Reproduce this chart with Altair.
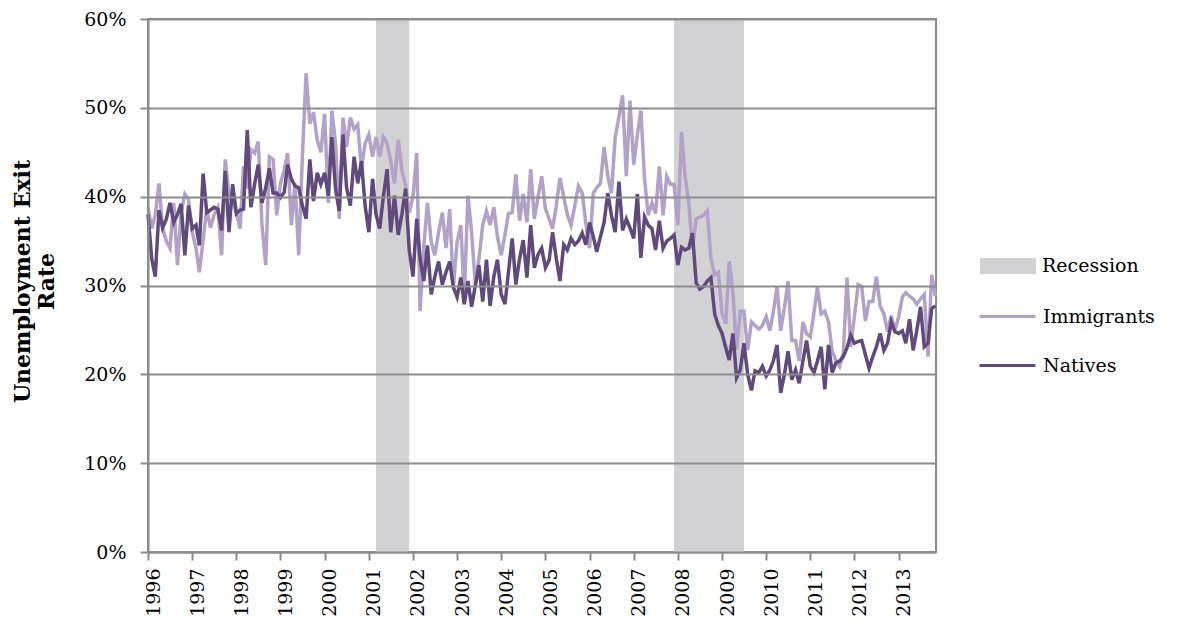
import altair as alt
import pandas as pd

# Monthly unemployment exit rates (%), Jan 1996 - Nov 2013
natives = [
    38, 33, 31, 38.5, 36.5, 37.5, 39.3, 37.1, 38, 39.2, 33.4, 39,
    36.4, 36.8, 34.5, 42.6, 38.2, 38.5, 38.8, 38.6, 36.2, 42.9, 36, 41.4,
    38.1, 38.5, 38.6, 47.5, 38.8, 41.4, 43.6, 39.3, 41, 43.2, 40.4, 40.4,
    39.9, 40.5, 43.6, 42, 41.2, 41, 39, 37.5, 44.2, 39.5, 42.7, 41.4,
    42.7, 40.1, 46.7, 40.8, 38.4, 47, 41, 39, 44.5, 41.5, 44, 39,
    36, 42, 38, 36.4, 40, 43.1, 36, 40.1, 35.7, 38, 40.9, 34,
    31, 37.5, 33, 30.5, 34.5, 29, 31, 32.7, 30.1, 31.5, 32.7, 29.8,
    28.7, 30.9, 27.9, 30.5, 27.6, 30, 32.3, 28.2, 32.9, 27.7, 31, 32.9,
    29, 27.9, 31.5, 35.3, 30.1, 33, 35.1, 30.9, 36.8, 32, 33.5, 34.2,
    32, 32.9, 36, 33, 30.5, 34.6, 34, 35.3, 34.6, 35, 35.9, 34.6,
    37.1, 35.5, 33.8, 35.5, 37.1, 40.4, 37.9, 36, 41.7, 36.2, 37.5, 36.5,
    35.3, 40.3, 33.1, 37.7, 36.8, 36.4, 34, 37.3, 34.2, 35, 35.3, 35.7,
    32.3, 34.3, 34, 34.2, 35.9, 30.3, 29.6, 29.9, 30.5, 30.9, 26.8, 25.5,
    24.6, 23, 21.6, 24.6, 19.6, 20.5, 23.5, 20, 18.2, 20.4, 20.2, 20.9,
    19.8, 20.5, 21.5, 23.3, 17.9, 20, 22.6, 19.4, 20.5, 19, 21.5, 23.8,
    20.9, 20.2, 21.5, 23.1, 18.3, 23.3, 20.2, 21.3, 21.5, 22, 23, 24.4,
    23.5, 23.7, 23.8, 22.2, 20.7, 22, 23.1, 24.6, 22.7, 23.5, 25.9, 24.8,
    24.6, 24.9, 23.5, 26.2, 22.7, 25, 27.6, 23.1, 23.5, 27.4, 27.7,
]

immigrants = [
    38.8, 36.4, 38, 41.5, 36.4, 35, 34.2, 39.3, 32.3, 38.2, 40.3, 39.7,
    36, 34.2, 31.5, 35.1, 38.6, 36.5, 38, 38.8, 33.4, 44.2, 40.1, 39.3,
    38.2, 36.4, 43.4, 40.9, 45.3, 44.9, 46.2, 36.8, 32.3, 44.5, 44.2, 37.9,
    41.5, 43, 44.9, 36.8, 41.5, 33.4, 44.5, 53.9, 48.2, 49.5, 46.4, 45,
    49.3, 39.3, 49.7, 46, 37.5, 48.9, 45.6, 48.9, 47.6, 48.1, 43.1, 46,
    47, 44.5, 46.7, 44.5, 46.7, 46, 44, 41.5, 46.4, 43, 41.2, 38.2,
    40, 44.9, 27.1, 34.5, 39.3, 34.9, 33.4, 36, 38.2, 34.2, 38.6, 29.8,
    34.9, 36.8, 28.7, 40.1, 36, 30.1, 33, 36.8, 38.4, 36.8, 38.8, 35.5,
    33.4, 35.7, 38.1, 38.2, 42.5, 37.3, 40.3, 37.1, 43.1, 37.5, 40, 42.3,
    38.6, 37.5, 36.4, 39, 42.1, 40, 38, 36.8, 39, 41.2, 40.4, 37,
    34.2, 40.4, 41, 41.5, 45.6, 42.3, 40.4, 46.7, 49, 51.4, 42.3, 50.8,
    43.6, 47, 49.7, 42, 37.9, 39.3, 38.1, 43.4, 37.9, 42.3, 41.4, 41.4,
    36.8, 47.3, 42.3, 39.3, 34.2, 37.5, 37.7, 37.9, 38.4, 33, 31.2, 31.5,
    26.8, 25.7, 32.7, 29.3, 22.7, 27.1, 27.1, 22.7, 25.9, 25.5, 25.1, 25.5,
    26.5, 24.9, 27, 29.9, 24.9, 27.5, 30.5, 23.8, 23.8, 21.5, 25.9, 24.6,
    24.2, 27, 29.8, 26.8, 27.1, 25.9, 22.6, 21.6, 20.9, 22.4, 30.9, 23.1,
    26.5, 30.1, 29.9, 26, 28.2, 28.2, 31, 27.7, 26.8, 24.8, 26.6, 24.9,
    26.5, 28.7, 29.2, 28.8, 28.5, 27.9, 28.5, 29, 22, 31.2, 28.8,
]

series_names = ["Immigrants", "Natives"]
series_colors = ["#b3a2c7", "#604a7b"]
recession_start = ["2001-03-01", "2007-12-01"]
recession_end = ["2001-12-01", "2009-07-01"]
year_ticks = list(range(1996, 2014))
y_ticks = [0, 0.1, 0.2, 0.3, 0.4, 0.5, 0.6]

FONT = "DejaVu Serif"
GRID = "#8c8c8c"
FS = 19

dates = pd.date_range("1996-01-01", periods=len(natives), freq="MS")
rows = []
for name, vals in zip(series_names, [immigrants, natives]):
    for d, v in zip(dates, vals):
        rows.append({"date": d.strftime("%Y-%m-%d"), "value": v / 100.0, "series": name})
df = pd.DataFrame(rows)
rec_df = pd.DataFrame({"start": recession_start, "end": recession_end, "label": ["Recession"] * 2})

TOP = 11
PLOT_H = 533

x_scale = alt.Scale(domain=["1996-01-01", "2013-11-06"])
x_axis = alt.Axis(
    values=[alt.DateTime(year=y, month=1, date=1) for y in year_ticks],
    format="%Y", labelAngle=-90, labelFont=FONT, labelFontSize=FS, labelColor="black",
    labelPadding=8, labelOffset=5, tickSize=8, tickColor=GRID, tickWidth=2,
    domainColor=GRID, domainWidth=2, grid=False, title=None,
)

rect = alt.Chart(rec_df).mark_rect(color="#d2d2d4").encode(
    x=alt.X("start:T", scale=x_scale, axis=x_axis),
    x2="end:T",
    fill=alt.Fill(
        "label:N",
        scale=alt.Scale(domain=["Recession"], range=["#d2d2d4"]),
        legend=alt.Legend(
            title=None, orient="none", legendX=835, legendY=222, padding=0,
            symbolType="M-1.12,-0.32L1.12,-0.32L1.12,0.32L-1.12,0.32Z",
            symbolSize=2500, symbolStrokeWidth=0, symbolOpacity=1,
            labelFont=FONT, labelFontSize=FS, labelColor="black", labelOffset=9,
        ),
    ),
)

lines = alt.Chart(df).mark_line(strokeWidth=3.5).encode(
    x=alt.X("date:T", scale=x_scale, axis=x_axis),
    y=alt.Y(
        "value:Q",
        scale=alt.Scale(domain=[0, 0.6]),
        axis=alt.Axis(
            values=y_ticks, format=".0%", labelFont=FONT, labelFontSize=FS,
            labelColor="black", labelPadding=14, tickSize=8, tickColor=GRID,
            tickWidth=2, domainColor=GRID, domainWidth=2, grid=True,
            gridColor=GRID, gridWidth=2, zindex=1,
            title=["Unemployment Exit", "Rate"], titleFont=FONT, titleFontSize=22,
            titleFontWeight="bold", titleColor="black", titleAngle=-90,
            titleAlign="center", titleBaseline="top", titleX=-136, titleY=262,
            titleLineHeight=24,
        ),
    ),
    stroke=alt.Stroke(
        "series:N",
        scale=alt.Scale(domain=series_names, range=series_colors),
        legend=alt.Legend(
            title=None, orient="none", legendX=833, legendY=271, padding=0,
            rowPadding=12, symbolType="M-1.12,0L1.12,0", symbolSize=2500,
            symbolStrokeWidth=3, labelFont=FONT, labelFontSize=FS,
            labelColor="black", labelOffset=9,
        ),
    ),
)

chart = (
    alt.layer(rect, lines)
    .properties(
        width=788, height=PLOT_H,
        autosize=alt.AutoSizeParams(type="none"),
        padding={"left": 140, "top": TOP, "right": 237, "bottom": 79},
    )
    .configure_view(stroke=GRID, strokeWidth=2)
)

chart.save("out.html", embed_options={"renderer": "svg", "actions": False})
